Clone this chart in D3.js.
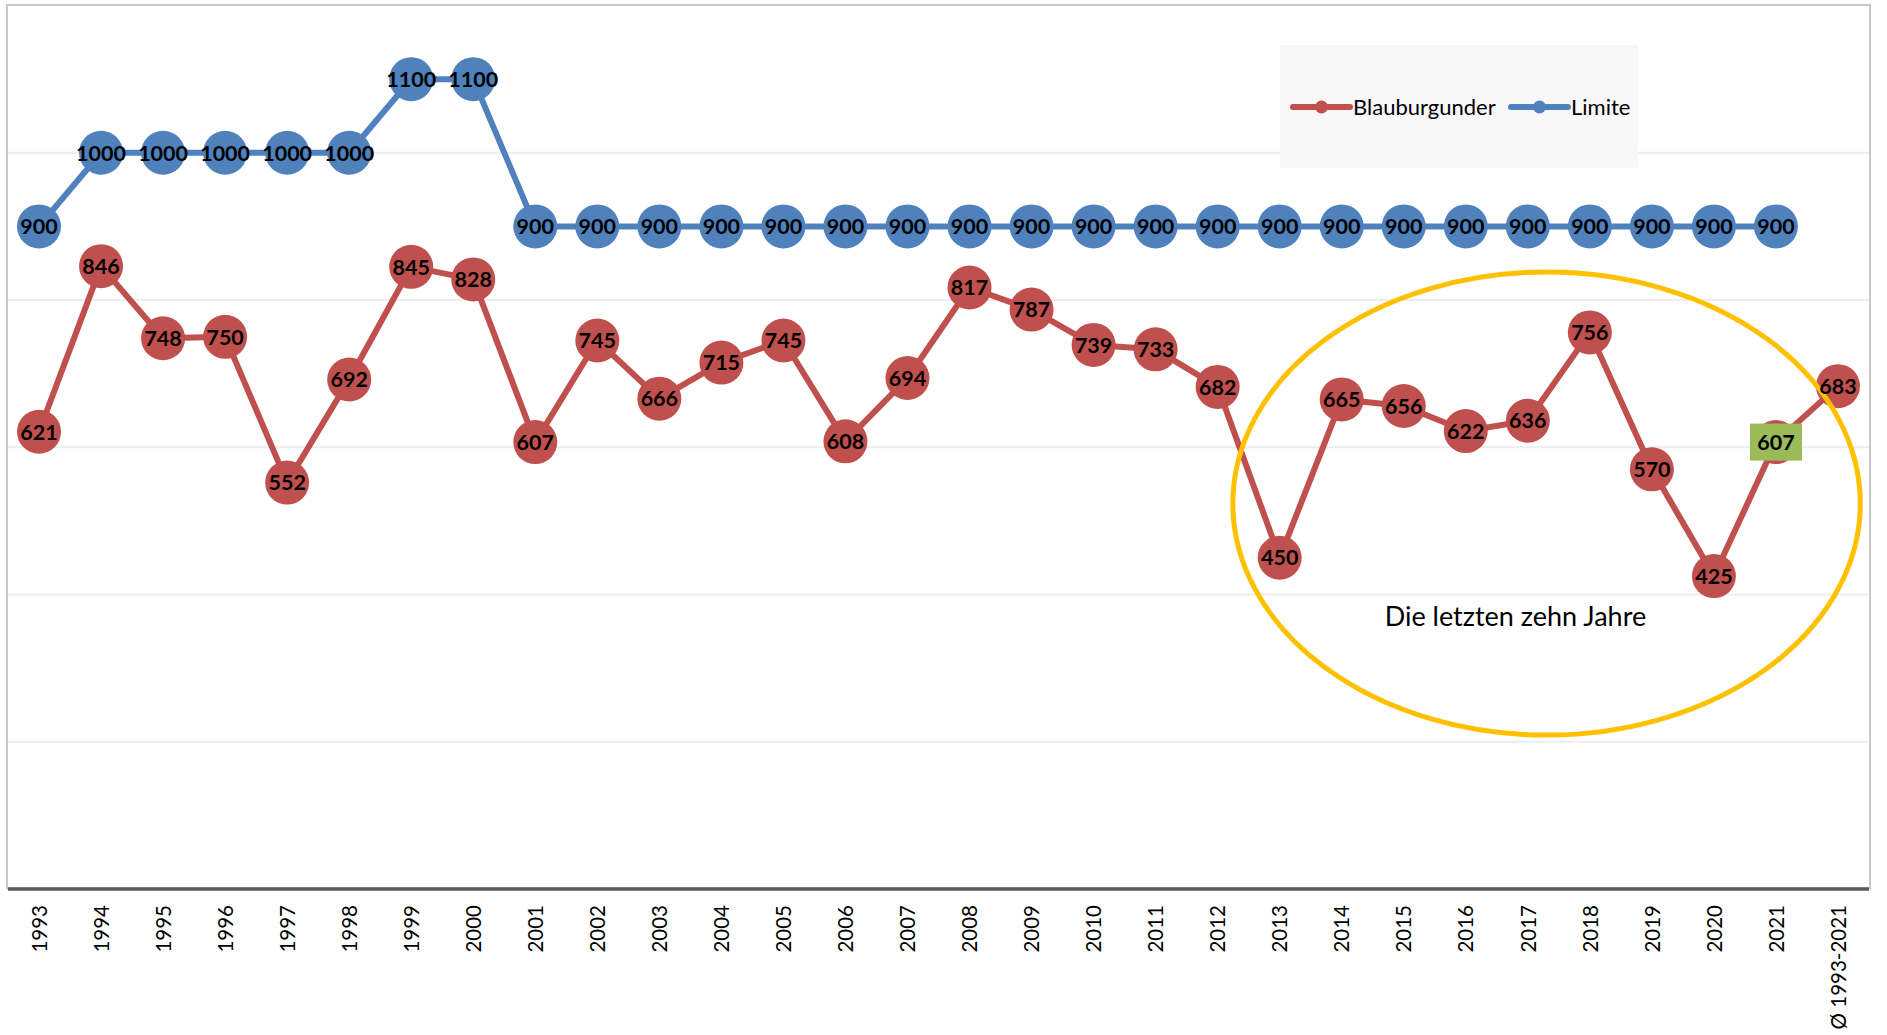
<!DOCTYPE html>
<meta charset="utf-8">
<style>
body { margin: 0; background: #fff; overflow: hidden; }
.axis path { fill: none; stroke: #595959; stroke-width: 3.5px; }
.axis text { font: 20.5px Lato, "DejaVu Sans", sans-serif; fill: #000; }
.value { font-family: Lato, "Noto Sans", sans-serif; font-weight: 700; font-size: 21.5px; fill: #000; }
</style>
<svg width="1887" height="1035"></svg>
<script src="https://d3js.org/d3.v7.min.js"></script>
<script>

// categories (x axis)
var years = ["1993", "1994", "1995", "1996", "1997", "1998", "1999", "2000", "2001", "2002",
             "2003", "2004", "2005", "2006", "2007", "2008", "2009", "2010", "2011", "2012",
             "2013", "2014", "2015", "2016", "2017", "2018", "2019", "2020", "2021", "Ø 1993-2021"];

// Blauburgunder, last value is the average 1993-2021
var blauburgunder = [621, 846, 748, 750, 552, 692, 845, 828, 607, 745,
                     666, 715, 745, 608, 694, 817, 787, 739, 733, 682,
                     450, 665, 656, 622, 636, 756, 570, 425, 607, 683];

// Limite (no value for the average)
var limite = [900, 1000, 1000, 1000, 1000, 1000, 1100, 1100, 900, 900,
              900, 900, 900, 900, 900, 900, 900, 900, 900, 900,
              900, 900, 900, 900, 900, 900, 900, 900, 900];

var gridValues = [200, 400, 600, 800, 1000];
var seriesNames = ["Blauburgunder", "Limite"];
var seriesColors = ["#C0504D", "#4F81BD"];

var highlightYear = "2021";          // label with green box
var ringFrom = "2013", ringTo = "Ø 1993-2021";   // yellow ellipse
var ringLow = 209, ringHigh = 838;
var ringText = "Die letzten zehn Jahre";

var svg = d3.select("svg"),
    plot = {left: 8, right: 1869, top: 5.5, bottom: 889};

var x = d3.scalePoint()
    .domain(years)
    .range([plot.left, plot.right])
    .padding(0.5);

var y = d3.scaleLinear()
    .domain([0, 1200])
    .range([plot.bottom, plot.top]);

var step = x.step();

// gridlines
svg.append("g")
  .selectAll("line")
  .data(gridValues)
  .enter().append("line")
    .attr("x1", plot.left)
    .attr("x2", plot.right)
    .attr("y1", function(d) { return y(d); })
    .attr("y2", function(d) { return y(d); })
    .style("stroke", "#EDEDED")
    .style("stroke-width", 2);

// plot area border
svg.append("rect")
    .attr("x", plot.left - 1)
    .attr("y", plot.top - 0.5)
    .attr("width", plot.right - plot.left + 2)
    .attr("height", plot.bottom - plot.top)
    .style("fill", "none")
    .style("stroke", "#C8C8C8")
    .style("stroke-width", 2);

// x axis
var xAxis = d3.axisBottom(x).tickSize(0).tickSizeOuter(0);

var gx = svg.append("g")
    .attr("class", "axis")
    .attr("transform", "translate(0," + plot.bottom + ")")
    .call(xAxis);

gx.select(".domain").attr("d", "M" + plot.left + ",0H" + plot.right);

gx.selectAll("text")
    .attr("transform", "rotate(-90)")
    .attr("text-anchor", "end")
    .attr("x", -16)
    .attr("y", 0)
    .attr("dy", "0.35em");

// lines + markers
var line = d3.line()
    .x(function(d) { return x(d.year); })
    .y(function(d) { return y(d.value); });

var series = [blauburgunder, limite].map(function(vals, k) {
  return {
    name: seriesNames[k],
    color: seriesColors[k],
    points: vals.map(function(v, i) { return {year: years[i], value: v}; })
  };
});

series.forEach(function(s) {
  svg.append("path")
      .datum(s.points)
      .attr("d", line)
      .style("fill", "none")
      .style("stroke", s.color)
      .style("stroke-width", 6)
      .style("stroke-linejoin", "round");
});

series.forEach(function(s) {
  svg.append("g")
    .selectAll("circle")
    .data(s.points)
    .enter().append("circle")
      .attr("cx", function(d) { return x(d.year); })
      .attr("cy", function(d) { return y(d.value); })
      .attr("r", 22)
      .style("fill", s.color);
});

// yellow ring round the last ten years
var ringLeft = x(ringFrom) - 0.755 * step,
    ringRight = x(ringTo) + 0.36 * step;

svg.append("ellipse")
    .attr("cx", (ringLeft + ringRight) / 2)
    .attr("cy", (y(ringLow) + y(ringHigh)) / 2)
    .attr("rx", (ringRight - ringLeft) / 2)
    .attr("ry", (y(ringLow) - y(ringHigh)) / 2)
    .style("fill", "none")
    .style("stroke", "#FFC000")
    .style("stroke-width", 5);

svg.append("text")
    .attr("x", x("2017") - 0.2 * step)
    .attr("y", y(357))
    .attr("text-anchor", "middle")
    .style("font-family", "Lato, sans-serif")
    .style("font-size", "27px")
    .style("fill", "#000")
    .text(ringText);

// data labels
series.forEach(function(s) {
  var lab = svg.append("g")
    .selectAll("g")
    .data(s.points)
    .enter().append("g")
      .attr("transform", function(d) { return "translate(" + x(d.year) + "," + y(d.value) + ")"; });

  lab.filter(function(d) { return s.name == "Blauburgunder" && d.year == highlightYear; })
    .append("rect")
      .attr("x", -26)
      .attr("y", -18.5)
      .attr("width", 52)
      .attr("height", 37)
      .style("fill", "#9BBB59");

  lab.append("text")
      .attr("class", "value")
      .attr("text-anchor", "middle")
      .attr("dy", "0.36em")
      .text(function(d) { return d.value; });
});

// legend
var legend = svg.append("g").attr("transform", "translate(1280,45)");

legend.append("rect")
    .attr("width", 358)
    .attr("height", 123)
    .style("fill", "#F8F8F8");

var legendX = [13, 231];
var item = legend.selectAll(".item")
    .data(series)
    .enter().append("g")
      .attr("class", "item")
      .attr("transform", function(d, i) { return "translate(" + legendX[i] + ",62)"; });

item.append("line")
    .attr("x1", 0)
    .attr("x2", 57)
    .style("stroke", function(d) { return d.color; })
    .style("stroke-width", 6)
    .style("stroke-linecap", "round");

item.append("circle")
    .attr("cx", 28.5)
    .attr("r", 6.5)
    .style("fill", function(d) { return d.color; });

item.append("text")
    .attr("x", 60)
    .attr("dy", "0.35em")
    .style("font-family", "Lato, sans-serif")
    .style("font-size", "22px")
    .style("fill", "#000")
    .text(function(d) { return d.name; });

</script>
